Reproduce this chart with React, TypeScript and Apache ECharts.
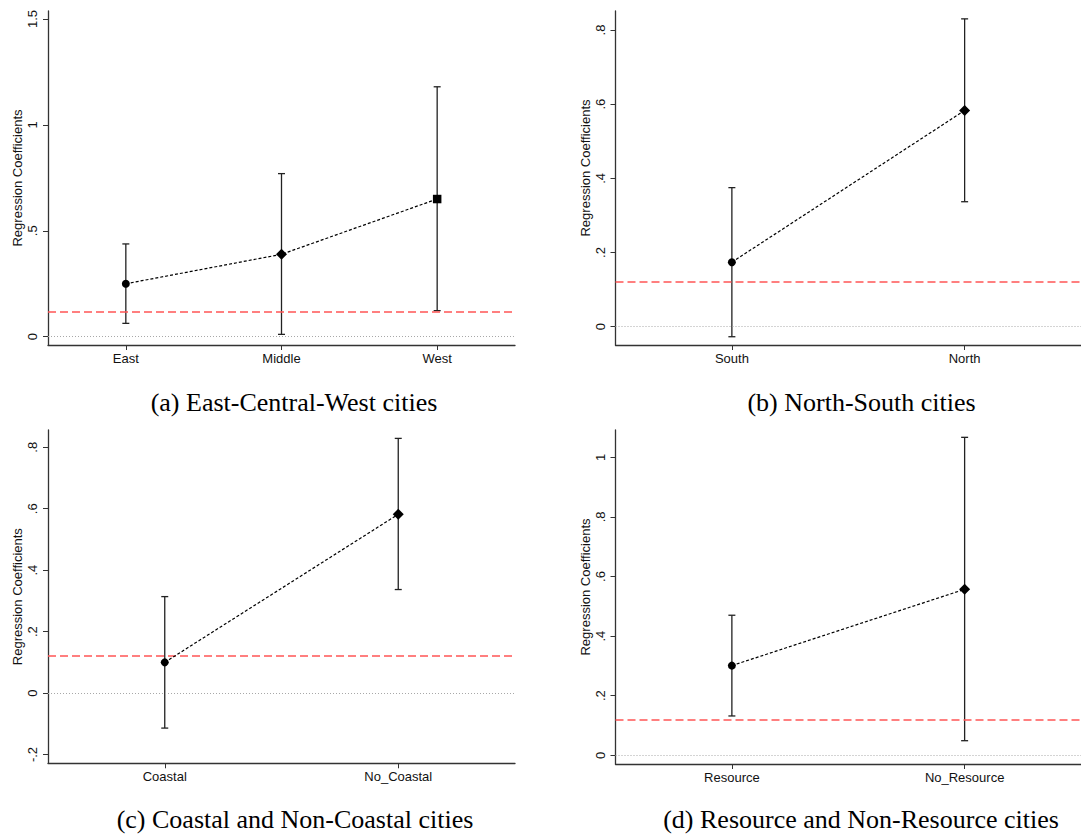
import React, { useEffect, useRef } from "react";
import * as echarts from "echarts";

// ---------- data ----------
const catsA = ["East", "Middle", "West"];
const coefA = [0.25, 0.389, 0.65];
const lowA = [0.063, 0.011, 0.123];
const highA = [0.438, 0.77, 1.18];

const catsB = ["South", "North"];
const coefB = [0.174, 0.583];
const lowB = [-0.027, 0.337];
const highB = [0.375, 0.83];

const catsC = ["Coastal", "No_Coastal"];
const coefC = [0.1, 0.582];
const lowC = [-0.114, 0.337];
const highC = [0.314, 0.829];

const catsD = ["Resource", "No_Resource"];
const coefD = [0.301, 0.557];
const lowD = [0.132, 0.049];
const highD = [0.47, 1.067];

const refLine = 0.115;

const ticksA = [0, 0.5, 1, 1.5];
const ticksB = [0, 0.2, 0.4, 0.6, 0.8];
const ticksC = [-0.2, 0, 0.2, 0.4, 0.6, 0.8];
const ticksD = [0, 0.2, 0.4, 0.6, 0.8, 1];

const captions = [
  "(a) East-Central-West cities",
  "(b) North-South cities",
  "(c) Coastal and Non-Coastal cities",
  "(d) Resource and Non-Resource cities",
];

const SANS = "'Liberation Sans', Arial, sans-serif";
const SERIF = "'Liberation Serif', 'Times New Roman', serif";
const AX = "#333333";

function fmtTick(v: number) {
  const r = Math.round(v * 10) / 10;
  let s = String(r);
  s = s.replace(/^0\./, ".").replace(/^-0\./, "-.");
  return s;
}

type Panel = {
  cats: string[];
  coef: number[];
  low: number[];
  high: number[];
  ticks: number[];
  grid: { left: number; top: number; width: number; height: number };
  yMin: number;
  yMax: number;
  symbols: string[];
  namePad: number;
};

const panels: Panel[] = [
  {
    cats: catsA, coef: coefA, low: lowA, high: highA, ticks: ticksA,
    grid: { left: 48, top: 11, width: 467, height: 334 },
    yMin: -0.0392, yMax: 1.5378, symbols: ["circle", "diamond", "rect"], namePad: 0,
  },
  {
    cats: catsB, coef: coefB, low: lowB, high: highB, ticks: ticksB,
    grid: { left: 615.5, top: 11, width: 465.5, height: 334 },
    yMin: -0.0493, yMax: 0.8512, symbols: ["circle", "diamond"], namePad: 20,
  },
  {
    cats: catsC, coef: coefC, low: lowC, high: highC, ticks: ticksC,
    grid: { left: 48, top: 430, width: 467, height: 333.3 },
    yMin: -0.2286, yMax: 0.8563, symbols: ["circle", "diamond"], namePad: 0,
  },
  {
    cats: catsD, coef: coefD, low: lowD, high: highD, ticks: ticksD,
    grid: { left: 615.5, top: 430, width: 465.5, height: 334 },
    yMin: -0.0292, yMax: 1.0916, symbols: ["circle", "diamond"], namePad: 20,
  },
];

function buildOption() {
  const grids: any[] = [];
  const xAxes: any[] = [];
  const yAxes: any[] = [];
  const series: any[] = [];

  panels.forEach((p, i) => {
    grids.push({ ...p.grid, containLabel: false });
    const idx = p.cats.map((_, k) => k);
    xAxes.push({
      type: "value",
      gridIndex: i,
      min: -0.5,
      max: p.cats.length - 0.5,
      axisLine: { show: true, onZero: false, lineStyle: { color: AX, width: 1.3 } },
      axisTick: { show: true, customValues: idx, length: 5, lineStyle: { color: AX, width: 1 } },
      axisLabel: {
        show: true,
        customValues: idx,
        formatter: (v: number) => p.cats[Math.round(v)] ?? "",
        color: "#111",
        fontFamily: SANS,
        fontSize: 13,
        margin: 7,
      },
      splitLine: { show: false },
    });
    yAxes.push({
      type: "value",
      gridIndex: i,
      min: p.yMin,
      max: p.yMax,
      name: "Regression Coefficients",
      nameLocation: "middle",
      nameRotate: 90,
      nameGap: 24,
      nameTextStyle: {
        fontFamily: SANS,
        fontSize: 13,
        color: "#111",
        padding: [0, 0, 0, p.namePad],
      },
      axisLine: { show: true, onZero: false, lineStyle: { color: AX, width: 1.3 } },
      axisTick: { show: true, customValues: p.ticks, length: 5, lineStyle: { color: AX, width: 1 } },
      axisLabel: {
        show: true,
        customValues: p.ticks,
        rotate: 90,
        formatter: (v: number) => fmtTick(v),
        color: "#111",
        fontFamily: SANS,
        fontSize: 13,
        margin: 9,
      },
      splitLine: { show: false },
    });

    // error bars
    series.push({
      type: "custom",
      xAxisIndex: i,
      yAxisIndex: i,
      silent: true,
      z: 3,
      data: p.cats.map((_, k) => [k, p.low[k], p.high[k]]),
      renderItem: (params: any, api: any) => {
        const x = api.value(0);
        const pLo = api.coord([x, api.value(1)]);
        const pHi = api.coord([x, api.value(2)]);
        const w = 3.5;
        const st = { stroke: "#222", lineWidth: 1.3 };
        return {
          type: "group",
          children: [
            { type: "line", shape: { x1: pLo[0], y1: pLo[1], x2: pHi[0], y2: pHi[1] }, style: st },
            { type: "line", shape: { x1: pHi[0] - w, y1: pHi[1], x2: pHi[0] + w, y2: pHi[1] }, style: st },
            { type: "line", shape: { x1: pLo[0] - w, y1: pLo[1], x2: pLo[0] + w, y2: pLo[1] }, style: st },
          ],
        };
      },
    });

    // reference lines
    series.push({
      type: "line",
      xAxisIndex: i,
      yAxisIndex: i,
      data: [],
      silent: true,
      z: 1,
      markLine: {
        silent: true,
        symbol: "none",
        label: { show: false },
        animation: false,
        data: [
          { yAxis: 0, lineStyle: { color: "#a8a8a8", width: 1, type: [1, 2] } },
          { yAxis: refLine, lineStyle: { color: "#ff5555", width: 1.6, type: [8, 4] } },
        ],
      },
    });

    // point estimates with dashed connector
    series.push({
      type: "line",
      xAxisIndex: i,
      yAxisIndex: i,
      z: 5,
      silent: true,
      lineStyle: { color: "#000", width: 1.2, type: [3, 2] },
      itemStyle: { color: "#000" },
      data: p.cats.map((_, k) => {
        const sym = p.symbols[k];
        const size = sym === "diamond" ? 11 : sym === "rect" ? 8.5 : 8;
        return { value: [k, p.coef[k]], symbol: sym, symbolSize: size };
      }),
    });
  });

  const graphics: any[] = [
    { x: 294, y: 402 },
    { x: 861.5, y: 402 },
    { x: 295, y: 819 },
    { x: 861, y: 819 },
  ].map((pos, i) => ({
    type: "text",
    x: pos.x,
    y: pos.y,
    style: {
      text: captions[i],
      fontFamily: SERIF,
      fontSize: 26,
      fill: "#000",
      textAlign: "center",
      textVerticalAlign: "middle",
    },
  }));

  return {
    animation: false,
    backgroundColor: "#ffffff",
    grid: grids,
    xAxis: xAxes,
    yAxis: yAxes,
    series,
    graphic: graphics,
  };
}

export default function App() {
  const ref = useRef<HTMLDivElement>(null);
  useEffect(() => {
    if (!ref.current) return;
    const chart = echarts.init(ref.current, undefined, { renderer: "svg" });
    chart.setOption(buildOption() as any);
    return () => chart.dispose();
  }, []);
  return (
    <div
      ref={ref}
      style={{ position: "absolute", left: 0, top: 0, width: 1081, height: 837, background: "#fff" }}
    />
  );
}
